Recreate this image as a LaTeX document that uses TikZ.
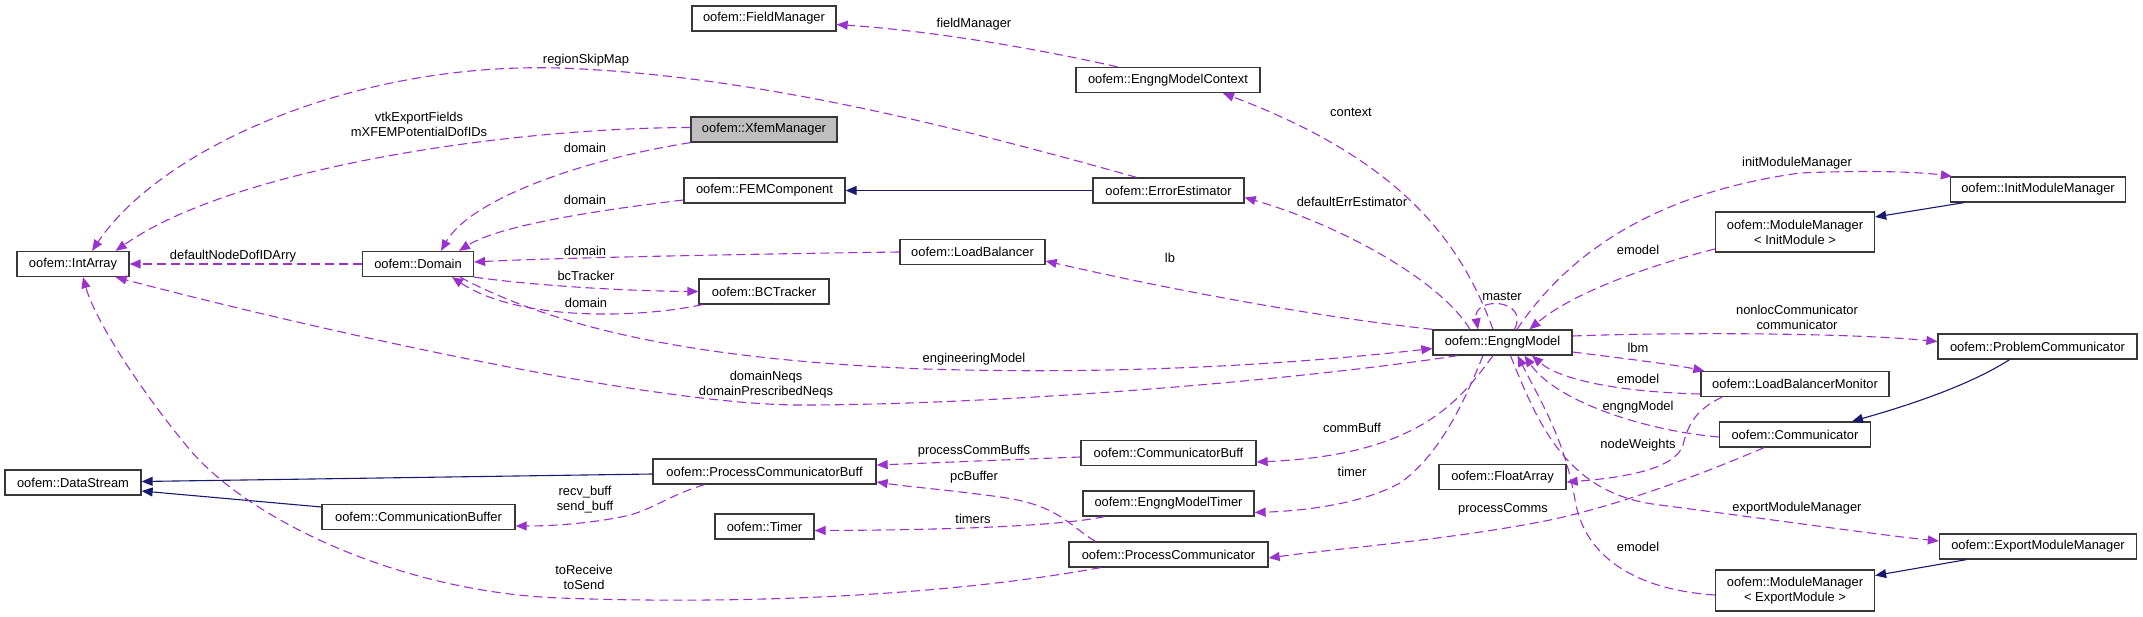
\documentclass[tikz,border=0pt]{standalone}
\usepackage{fontspec}
\setmainfont{Liberation Sans}
\usetikzlibrary{arrows.meta,calc}
\definecolor{collc}{HTML}{9A32CD}
\definecolor{inhc}{HTML}{191970}
\definecolor{boxc}{HTML}{383838}
\begin{document}
\begin{tikzpicture}[x=1pt,y=-1pt,font=\fontsize{12.9}{15}\selectfont,
  cls/.style={draw=boxc,line width=1.3pt,fill=white,inner sep=0pt,minimum height=25pt,text=black,anchor=center},
  cls2/.style={cls,minimum height=40pt,align=center},
  sel/.style={cls,fill=black!25},
  coll/.style={draw=collc,line width=1.1pt,dash pattern=on 9pt off 5pt,-{Triangle[length=11pt,width=9pt]}},
  inh/.style={draw=inhc,line width=1.1pt,-{Triangle[length=11pt,width=9pt]}},
  lbl/.style={inner sep=0pt,text=black,align=center,anchor=center}]
\useasboundingbox (0,0) rectangle (2143,617);
% nodes
\node[cls,minimum width=144pt] (fieldmgr) at (764,18.5) {oofem::FieldManager};
\node[cls,minimum width=184pt] (emcontext) at (1168,80) {oofem::EngngModelContext};
\node[sel,minimum width=146pt] (xfem) at (764,129.5) {oofem::XfemManager};
\node[cls,minimum width=161pt] (femcomp) at (764.5,190.5) {oofem::FEMComponent};
\node[cls,minimum width=151pt] (errest) at (1168.5,190.5) {oofem::ErrorEstimator};
\node[cls,minimum width=112pt] (intarray) at (73,264) {oofem::IntArray};
\node[cls,minimum width=111pt] (domain) at (418,264) {oofem::Domain};
\node[cls,minimum width=145pt] (loadbal) at (972.5,252) {oofem::LoadBalancer};
\node[cls,minimum width=130pt] (bctracker) at (764,291.5) {oofem::BCTracker};
\node[cls,minimum width=175pt] (initmm) at (2038,189.5) {oofem::InitModuleManager};
\node[cls2,minimum width=159pt] (mminit) at (1795,232) {oofem::ModuleManager\\< InitModule >};
\node[cls,minimum width=139pt] (engng) at (1502.5,342.5) {oofem::EngngModel};
\node[cls,minimum width=199pt] (probcomm) at (2037.5,346.5) {oofem::ProblemCommunicator};
\node[cls,minimum width=188pt] (lbmon) at (1795,384) {oofem::LoadBalancerMonitor};
\node[cls,minimum width=151pt] (comm) at (1795,434.5) {oofem::Communicator};
\node[cls,minimum width=127pt] (floatarr) at (1502.5,477) {oofem::FloatArray};
\node[cls,minimum width=197pt] (exportmm) at (2038,546.5) {oofem::ExportModuleManager};
\node[cls2,minimum width=159pt,minimum height=41pt] (mmexport) at (1795,590.5) {oofem::ModuleManager\\< ExportModule >};
\node[cls,minimum width=136pt] (datastream) at (73,482.5) {oofem::DataStream};
\node[cls,minimum width=193pt] (commbuffer) at (418.5,517) {oofem::CommunicationBuffer};
\node[cls,minimum width=223pt] (pcbuff) at (764.5,471.5) {oofem::ProcessCommunicatorBuff};
\node[cls,minimum width=175pt] (cbuff) at (1168.5,453) {oofem::CommunicatorBuff};
\node[cls,minimum width=171pt] (emtimer) at (1168.5,503.5) {oofem::EngngModelTimer};
\node[cls,minimum width=99pt] (timer) at (764.5,526.5) {oofem::Timer};
\node[cls,minimum width=199pt] (proccomm) at (1168.5,554.5) {oofem::ProcessCommunicator};
% inheritance
\draw[inh] (errest.west) -- (femcomp.east);
\draw[inh] ([yshift=-2.5pt]pcbuff.west) -- ([yshift=1pt]datastream.east);
\draw[inh] ([yshift=10pt]commbuffer.west) -- ([yshift=-8.5pt]datastream.east);
\draw[inh] ([xshift=14pt]initmm.south west) -- ([yshift=15pt]mminit.east);
\draw[inh] ([xshift=-28pt]probcomm.south) .. controls (1970,385) and (1910,405) .. ([xshift=57pt]comm.north);
\draw[inh] ([xshift=27.5pt]exportmm.south west) -- ([yshift=15pt]mmexport.east);
% collaboration
\draw[coll] (domain.west) -- (intarray.east);
\draw[coll] ([yshift=2pt]xfem.west) .. controls (500,128) and (230,170) .. ([xshift=-14pt]intarray.north east);
\draw[coll] ([xshift=-32pt]errest.north) .. controls (950,125) and (750,75) .. (560,68) .. controls (350,62) and (160,150) .. ([xshift=19pt]intarray.north);
\draw[coll] (xfem.south west) .. controls (580,160) and (470,200) .. ([xshift=23pt]domain.north);
\draw[coll] ([yshift=-9.5pt]femcomp.west) .. controls (600,210) and (500,225) .. ([xshift=41pt]domain.north);
\draw[coll] (loadbal.west) .. controls (750,254) and (550,258) .. ([yshift=2pt]domain.east);
\draw[coll] (domain.south east) .. controls (530,285) and (620,291) .. (bctracker.west);
\draw[coll] ([xshift=4pt]bctracker.south west) .. controls (640,318) and (520,322) .. ([xshift=34pt]domain.south);
\draw[coll] ([xshift=42pt]domain.south) .. controls (560,330) and (700,360) .. (925,369) .. controls (1150,376) and (1330,360) .. ([yshift=-6pt]engng.west);
\draw[coll] ([xshift=-45pt]engng.south) .. controls (1300,380) and (1000,405) .. (800,405) .. controls (640,405) and (270,318) .. ([xshift=-14pt]intarray.south east);
\draw[coll] ([xshift=-9.5pt]engng.north) .. controls (1460,240) and (1400,160) .. ([xshift=55pt]emcontext.south);
\draw[coll] ([xshift=-50.5pt]emcontext.north) .. controls (1020,45) and (920,30) .. ([yshift=-6pt]fieldmgr.east);
\draw[coll] ([xshift=-32.5pt]engng.north) .. controls (1440,280) and (1340,225) .. ([yshift=-7pt]errest.east);
\draw[coll] (engng.north west) .. controls (1300,315) and (1150,285) .. ([yshift=-9pt]loadbal.east);
\draw[coll] ([xshift=14.5pt]engng.north) .. controls (1560,265) and (1640,195) .. (1800,173) .. controls (1870,170) and (1920,172) .. ([xshift=2pt]initmm.north west);
\draw[coll] ([yshift=-17pt]mminit.west) .. controls (1640,268) and (1570,295) .. ([xshift=27pt]engng.north);
\draw[coll] ([xshift=12pt]engng.north) .. controls (1530,298) and (1472,296) .. ([xshift=-24.5pt]engng.north);
\draw[coll] ([yshift=6.5pt]engng.east) .. controls (1680,332) and (1850,333) .. ([yshift=5pt]probcomm.west);
\draw[coll] ([yshift=-9.5pt]engng.east) .. controls (1620,358) and (1670,364) .. ([xshift=4pt]lbmon.north west);
\draw[coll] ([yshift=-10pt]lbmon.west) .. controls (1620,392) and (1560,380) .. ([xshift=29.5pt]engng.south);
\draw[coll] ([yshift=-2.5pt]comm.west) .. controls (1640,430) and (1555,400) .. ([xshift=22pt]engng.south);
\draw[coll] ([yshift=-4.5pt]mmexport.west) .. controls (1640,590) and (1585,560) .. (1575,500) .. controls (1565,440) and (1540,400) .. ([xshift=15pt]engng.south);
\draw[coll] ([xshift=8pt]engng.south) .. controls (1540,430) and (1570,495) .. (1660,505) .. controls (1790,522) and (1880,535) .. ([yshift=5.5pt]exportmm.west);
\draw[coll] ([xshift=-31pt]comm.south) .. controls (1700,475) and (1620,505) .. (1550,520) .. controls (1450,540) and (1340,548) .. ([yshift=-3.5pt]proccomm.east);
\draw[coll] ([xshift=-73pt]lbmon.south) .. controls (1695,410) and (1688,425) .. (1683,445) .. controls (1675,470) and (1620,478) .. ([yshift=-5pt]floatarr.east);
\draw[coll] ([xshift=-9.5pt]engng.south) .. controls (1460,400) and (1420,455) .. ([yshift=-9pt]cbuff.east);
\draw[coll] ([xshift=-19.5pt]engng.south) .. controls (1465,400) and (1440,455) .. (1400,483) .. controls (1360,505) and (1300,511) .. ([yshift=-9pt]emtimer.east);
\draw[coll] ([xshift=-64pt]emtimer.south) .. controls (1060,526) and (950,530) .. ([yshift=-4pt]timer.east);
\draw[coll] ([xshift=-73pt]proccomm.north) .. controls (1070,527) and (1060,505) .. (1000,497) .. controls (950,490) and (910,487) .. ([yshift=-10.5pt]pcbuff.east);
\draw[coll] ([yshift=-4pt]cbuff.west) .. controls (1000,460) and (930,463) .. ([yshift=6.5pt]pcbuff.east);
\draw[coll] ([xshift=-60pt]pcbuff.south) .. controls (670,495) and (655,508) .. (630,515) .. controls (600,522) and (560,526) .. ([yshift=-9pt]commbuffer.east);
\draw[coll] ([xshift=-68pt]proccomm.south) .. controls (950,595) and (750,605) .. (560,598) .. controls (400,592) and (250,520) .. (190,450) .. controls (140,390) and (95,320) .. ([xshift=10pt]intarray.south);
% labels
\node[lbl] (l1) at (233,256) {defaultNodeDofIDArry};
\node[lbl] (l2) at (419,124.5) {vtkExportFields\\mXFEMPotentialDofIDs};
\node[lbl] (l3) at (586,60) {regionSkipMap};
\node[lbl] (l4) at (585,148) {domain};
\node[lbl] (l5) at (585,200) {domain};
\node[lbl] (l6) at (585,251) {domain};
\node[lbl] (l7) at (586,276) {bcTracker};
\node[lbl] (l8) at (586,303) {domain};
\node[lbl] (l9) at (974,359) {engineeringModel};
\node[lbl] (l10) at (766,384.5) {domainNeqs\\domainPrescribedNeqs};
\node[lbl] (l11) at (1351,112) {context};
\node[lbl] (l12) at (974,24) {fieldManager};
\node[lbl] (l13) at (1352,202) {defaultErrEstimator};
\node[lbl] (l14) at (1170,258) {lb};
\node[lbl] (l15) at (1797,163) {initModuleManager};
\node[lbl] (l16) at (1638,250) {emodel};
\node[lbl] (l17) at (1502,296) {master};
\node[lbl] (l18) at (1797,317.5) {nonlocCommunicator\\communicator};
\node[lbl] (l19) at (1638,348) {lbm};
\node[lbl] (l20) at (1638,379) {emodel};
\node[lbl] (l21) at (1638,407) {engngModel};
\node[lbl] (l22) at (1638,445) {nodeWeights};
\node[lbl] (l23) at (1503,509) {processComms};
\node[lbl] (l24) at (1797,508) {exportModuleManager};
\node[lbl] (l25) at (1638,547) {emodel};
\node[lbl] (l26) at (1352,428) {commBuff};
\node[lbl] (l27) at (1352,472) {timer};
\node[lbl] (l28) at (973,519) {timers};
\node[lbl] (l29) at (974,477) {pcBuffer};
\node[lbl] (l30) at (974,451) {processCommBuffs};
\node[lbl] (l31) at (585,499.5) {recv\_buff\\send\_buff};
\node[lbl] (l32) at (584,577.5) {toReceive\\toSend};
\end{tikzpicture}
\end{document}
